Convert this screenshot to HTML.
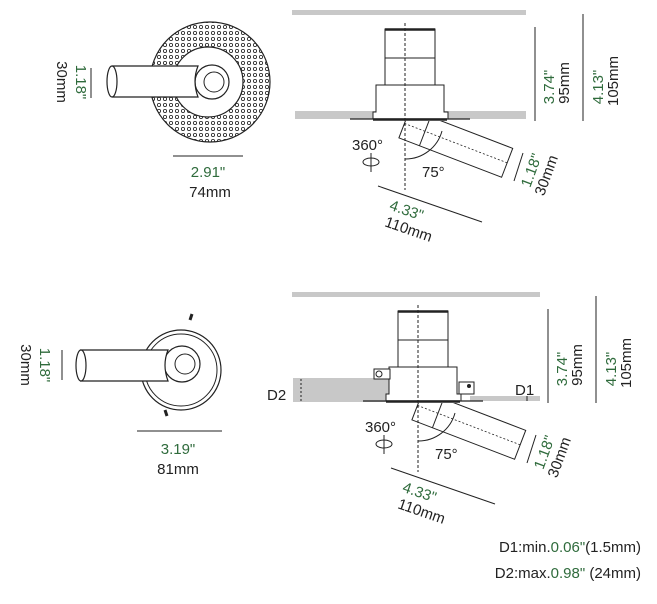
<!DOCTYPE html>
<html><head><meta charset="utf-8"><style>
html,body{margin:0;padding:0;background:#fff}
svg{display:block}
text{font-family:"Liberation Sans",sans-serif;font-size:15px;fill:#222}
.g{fill:#2f6b3c}
</style></head><body>
<svg width="657" height="604" viewBox="0 0 657 604" xmlns="http://www.w3.org/2000/svg">
<defs>
<pattern id="perf" width="6" height="6" patternUnits="userSpaceOnUse">
<circle cx="3" cy="3" r="1.6" fill="none" stroke="#222" stroke-width="0.8"/>
</pattern>
<clipPath id="below"><rect x="0" y="121" width="657" height="200"/></clipPath>
</defs>

<!-- TOP LEFT -->
<circle cx="210" cy="82" r="60" fill="url(#perf)" stroke="#222" stroke-width="1.2"/>
<circle cx="208" cy="82" r="35" fill="#fff" stroke="#222" stroke-width="1.2"/>
<circle cx="212" cy="82" r="17" fill="#fff" stroke="#222" stroke-width="1.2"/>
<circle cx="214" cy="82" r="10" fill="none" stroke="#222" stroke-width="1"/>
<path d="M112 66 L198 66 Q192 81 198 97 L112 97" fill="#fff" stroke="#222" stroke-width="1.2"/>
<ellipse cx="112" cy="81.5" rx="5" ry="15.5" fill="#fff" stroke="#222" stroke-width="1.2"/>
<line x1="91" y1="68" x2="91" y2="98" stroke="#222"/>
<text class="g" transform="translate(76,82) rotate(90)" text-anchor="middle">1.18"</text>
<text transform="translate(57,82) rotate(90)" text-anchor="middle">30mm</text>
<line x1="173" y1="156" x2="243" y2="156" stroke="#222"/>
<text class="g" x="208" y="177" text-anchor="middle">2.91"</text>
<text x="210" y="197" text-anchor="middle">74mm</text>

<!-- BOTTOM LEFT -->
<circle cx="181" cy="370" r="40" fill="#fff" stroke="#222" stroke-width="1.2"/>
<circle cx="181" cy="370" r="36" fill="none" stroke="#222" stroke-width="1"/>
<circle cx="182" cy="364" r="18" fill="#fff" stroke="#222" stroke-width="1.2"/>
<circle cx="185" cy="364" r="10" fill="none" stroke="#222" stroke-width="1"/>
<path d="M190 320 L192 314" stroke="#222" stroke-width="3"/>
<path d="M165 410 L167 416" stroke="#222" stroke-width="3"/>
<path d="M80 350 L168 350 Q162 365 168 381 L80 381" fill="#fff" stroke="#222" stroke-width="1.2"/>
<ellipse cx="81" cy="365.5" rx="5" ry="15.5" fill="#fff" stroke="#222" stroke-width="1.2"/>
<line x1="62" y1="350" x2="62" y2="380" stroke="#222"/>
<text class="g" transform="translate(40,365) rotate(90)" text-anchor="middle">1.18"</text>
<text transform="translate(21,365) rotate(90)" text-anchor="middle">30mm</text>
<line x1="137" y1="431" x2="222" y2="431" stroke="#222"/>
<text class="g" x="178" y="454" text-anchor="middle">3.19"</text>
<text x="178" y="474" text-anchor="middle">81mm</text>

<!-- TOP RIGHT -->
<rect x="292" y="10" width="234" height="5" fill="#c8c8c8"/>
<rect x="295" y="111" width="231" height="8" fill="#c8c8c8"/>
<g id="side">
<rect x="385" y="29" width="50" height="56" fill="#fff" stroke="#222"/>
<line x1="385" y1="29.5" x2="435" y2="29.5" stroke="#222" stroke-width="2.5"/>
<line x1="385" y1="58" x2="435" y2="58" stroke="#222"/>
<path d="M376 112 L376 85 L444 85 L444 112 L448 112 L448 119 L373 119 L373 112 Z" fill="#fff" stroke="#222"/>
<line x1="350" y1="119" x2="470" y2="119" stroke="#222" stroke-width="1.2"/>
<line x1="373" y1="119.5" x2="447" y2="119.5" stroke="#222" stroke-width="2.5"/>
<g clip-path="url(#below)">
<g transform="translate(405,122) rotate(21)">
<rect x="0" y="-14" width="110" height="31" fill="#fff" stroke="#222"/>
<line x1="22" y1="-14" x2="22" y2="17" stroke="#222"/>
<line x1="0" y1="1.5" x2="112" y2="1.5" stroke="#222" stroke-width="0.8" stroke-dasharray="2,2"/>
</g>
</g>
<line x1="405" y1="23" x2="405" y2="190" stroke="#222" stroke-dasharray="3,2"/>
<path d="M405 159 A38 38 0 0 0 442 131" fill="none" stroke="#222"/>
<text x="352" y="150">360°</text>
<ellipse cx="371" cy="162" rx="8" ry="4" fill="none" stroke="#222"/>
<line x1="371" y1="153" x2="371" y2="172" stroke="#222"/>
<text x="422" y="177">75°</text>
<line x1="523" y1="153" x2="514" y2="181" stroke="#222"/>
<text class="g" transform="translate(536,172) rotate(-70)" text-anchor="middle">1.18"</text>
<text transform="translate(551,177) rotate(-70)" text-anchor="middle">30mm</text>
<line x1="378" y1="186" x2="482" y2="222" stroke="#222"/>
<text class="g" transform="translate(405,215) rotate(19)" text-anchor="middle">4.33"</text>
<text transform="translate(407,234) rotate(19)" text-anchor="middle">110mm</text>
<line x1="535" y1="27" x2="535" y2="121" stroke="#222"/>
<text class="g" transform="translate(554,87) rotate(-90)" text-anchor="middle">3.74"</text>
<text transform="translate(569,83) rotate(-90)" text-anchor="middle">95mm</text>
<line x1="583" y1="14" x2="583" y2="121" stroke="#222"/>
<text class="g" transform="translate(603,87) rotate(-90)" text-anchor="middle">4.13"</text>
<text transform="translate(618,81) rotate(-90)" text-anchor="middle">105mm</text>
</g>

<!-- BOTTOM RIGHT -->
<rect x="292" y="292" width="248" height="5" fill="#c8c8c8"/>
<rect x="293" y="378" width="99" height="24" fill="#c8c8c8"/>
<rect x="470" y="396" width="70" height="5" fill="#c8c8c8"/>
<line x1="301" y1="379" x2="301" y2="401" stroke="#222" stroke-dasharray="2,2"/>
<line x1="527" y1="396" x2="527" y2="401" stroke="#222"/>
<text x="267" y="400">D2</text>
<text x="515" y="395">D1</text>
<use href="#side" transform="translate(13,282)"/>
<rect x="374" y="369" width="16" height="10" fill="#fff" stroke="#222"/>
<circle cx="379" cy="374" r="3" fill="none" stroke="#222"/>
<rect x="459" y="382" width="15" height="12" fill="#fff" stroke="#222"/>
<circle cx="469" cy="386" r="2" fill="#222"/>

<!-- NOTES -->
<text x="641" y="552" text-anchor="end">D1:min.<tspan class="g">0.06"</tspan>(1.5mm)</text>
<text x="641" y="578" text-anchor="end">D2:max.<tspan class="g">0.98"</tspan> (24mm)</text>
</svg>
</body></html>
